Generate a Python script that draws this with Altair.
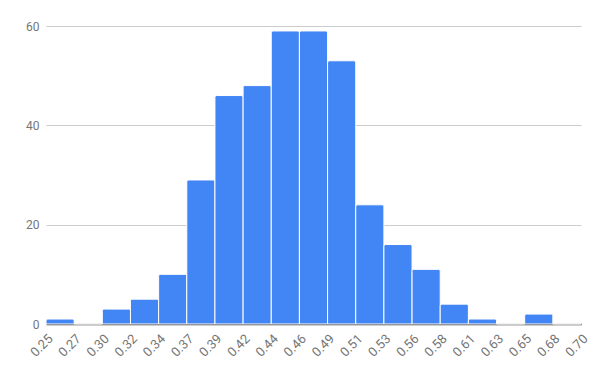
import altair as alt
import pandas as pd
import numpy as np

counts = [1, 0, 3, 5, 10, 29, 46, 48, 59, 59, 53, 24, 16, 11, 4, 1, 0, 2, 0]
range_lo = 0.25
range_hi = 0.70
y_ticks = [0, 20, 40, 60]

edges = [float(v) for v in np.linspace(range_lo, range_hi, len(counts) + 1)]
df = pd.DataFrame({
    "start": edges[:-1],
    "end": edges[1:],
    "count": counts,
})

chart = alt.Chart(df).mark_bar(
    orient="vertical",
    color="#4285F4",
    stroke="white",
    strokeWidth=1,
    cornerRadiusTopLeft=2,
    cornerRadiusTopRight=2,
).encode(
    x=alt.X("start:Q",
            scale=alt.Scale(domain=[range_lo, range_hi], nice=False, zero=False, padding=0),
            axis=alt.Axis(values=edges, format=".2f", labelAngle=-45,
                          labelAlign="right", labelBaseline="top",
                          title=None, ticks=False, grid=False,
                          domainColor="#333333", domainWidth=1.5,
                          labelColor="#757575", labelFontSize=13,
                          labelFont="Roboto", labelPadding=8, labelOverlap=False,
                          labelFlush=False)),
    x2="end:Q",
    y=alt.Y("count:Q",
            scale=alt.Scale(domain=[0, 60], nice=False),
            axis=alt.Axis(values=y_ticks, title=None, ticks=False, domain=False,
                          gridColor="#cccccc", labelColor="#757575",
                          labelFontSize=12, labelFont="Roboto", labelPadding=7)),
    y2=alt.Y2(datum=0),
).properties(
    width=535,
    height=298,
    autosize=alt.AutoSizeParams(type="none"),
    padding={"left": 46, "top": 26, "right": 19, "bottom": 47},
).configure_view(stroke=None)

chart.save("out.html", embed_options={"renderer": "svg", "actions": False})
